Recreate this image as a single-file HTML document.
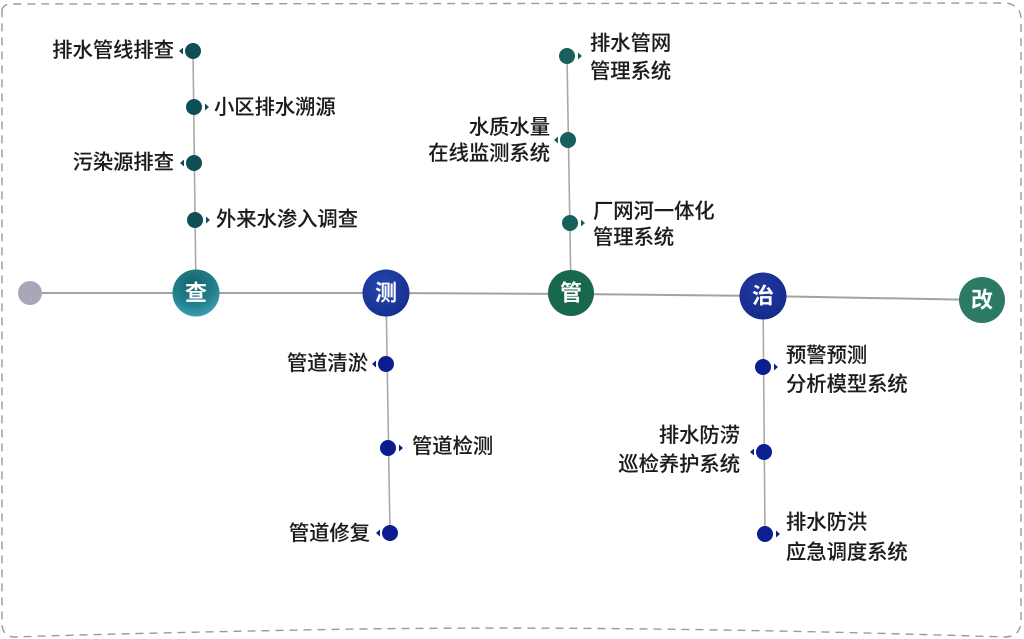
<!DOCTYPE html>
<html>
<head>
<meta charset="utf-8">
<style>
html,body{margin:0;padding:0;background:#fff;}
body{width:1024px;height:639px;overflow:hidden;}
svg{display:block;}
text{font-family:"Liberation Sans","Noto Sans CJK SC","WenQuanYi Zen Hei",sans-serif;}
.lb{font-size:20.3px;fill:#1c1c1c;font-weight:500;stroke:#1c1c1c;stroke-width:0.12;}
.big{font-size:22px;fill:#fff;font-weight:700;}
</style>
</head>
<body>
<svg width="1024" height="639" viewBox="0 0 1024 639" xmlns="http://www.w3.org/2000/svg">
<defs>
<radialGradient id="gCha" cx="45%" cy="30%" r="75%">
<stop offset="0" stop-color="#17636a"/>
<stop offset="0.6" stop-color="#23808c"/>
<stop offset="1" stop-color="#3fa3b6"/>
</radialGradient>
<radialGradient id="gCe" cx="40%" cy="35%" r="70%">
<stop offset="0" stop-color="#2545ad"/>
<stop offset="1" stop-color="#14308f"/>
</radialGradient>
<radialGradient id="gZhi" cx="40%" cy="35%" r="70%">
<stop offset="0" stop-color="#22389f"/>
<stop offset="1" stop-color="#142a8c"/>
</radialGradient>
</defs>
<rect width="1024" height="639" fill="#ffffff"/>
<!-- dashed border -->
<path d="M2,10 Q3,4 12,4 L1006,3 Q1020,5 1021,18 L1021,622 Q1020,636 1006,637 Q600,624 300,630 Q100,634 14,637 Q3,636 2,625 Z" fill="none" stroke="#9a9a9a" stroke-width="1.4" stroke-dasharray="8 6"/>

<!-- main horizontal line -->
<polyline points="30,293 196,293 386,293 571,294 763,296 982,300" fill="none" stroke="#a2a2a2" stroke-width="2"/>

<!-- vertical lines -->
<line x1="193" y1="51" x2="196" y2="293" stroke="#a8a8a8" stroke-width="1.6"/>
<line x1="386" y1="293" x2="390" y2="533" stroke="#a8a8a8" stroke-width="1.6"/>
<line x1="567" y1="56" x2="571" y2="293" stroke="#a8a8a8" stroke-width="1.6"/>
<line x1="763" y1="296" x2="765" y2="535" stroke="#a8a8a8" stroke-width="1.6"/>

<!-- grey start -->
<circle cx="30" cy="293" r="12" fill="#aaa6b8"/>

<!-- 查 branch -->
<g fill="#0e4f56">
<circle cx="193" cy="51" r="8"/>
<polygon points="179,51 183,47.5 183,54.5"/>
<circle cx="194" cy="107" r="8"/>
<polygon points="209,107 205,103.5 205,110.5"/>
<circle cx="194" cy="163" r="8"/>
<polygon points="180,163 184,159.5 184,166.5"/>
<circle cx="195" cy="220" r="8"/>
<polygon points="210,220 206,216.5 206,223.5"/>
</g>
<text class="lb" x="174" y="51" text-anchor="end" dominant-baseline="central">排水管线排查</text>
<text class="lb" x="214" y="108" dominant-baseline="central">小区排水溯源</text>
<text class="lb" x="174" y="163" text-anchor="end" dominant-baseline="central">污染源排查</text>
<text class="lb" x="216" y="220" dominant-baseline="central">外来水渗入调查</text>

<!-- 测 branch -->
<g fill="#0b1d8e">
<circle cx="386" cy="364" r="8"/>
<polygon points="372,364 376,360.5 376,367.5"/>
<circle cx="388" cy="448" r="8"/>
<polygon points="403,448 399,444.5 399,451.5"/>
<circle cx="390" cy="533" r="8"/>
<polygon points="376,533 380,529.5 380,536.5"/>
</g>
<text class="lb" x="368" y="364" text-anchor="end" dominant-baseline="central">管道清淤</text>
<text class="lb" x="412" y="447" dominant-baseline="central">管道检测</text>
<text class="lb" x="370" y="534" text-anchor="end" dominant-baseline="central">管道修复</text>

<!-- 管 branch -->
<g fill="#17605c">
<circle cx="567" cy="56" r="8"/>
<polygon points="582,56 578,52.5 578,59.5"/>
<circle cx="568" cy="140" r="8"/>
<polygon points="554,140 558,136.5 558,143.5"/>
<circle cx="570" cy="223" r="8"/>
<polygon points="585,223 581,219.5 581,226.5"/>
</g>
<text class="lb" x="590" y="44" dominant-baseline="central">排水管网</text>
<text class="lb" x="590" y="72" dominant-baseline="central">管理系统</text>
<text class="lb" x="550" y="128" text-anchor="end" dominant-baseline="central">水质水量</text>
<text class="lb" x="550" y="154" text-anchor="end" dominant-baseline="central">在线监测系统</text>
<text class="lb" x="593" y="212" dominant-baseline="central">厂网河一体化</text>
<text class="lb" x="593" y="238" dominant-baseline="central">管理系统</text>

<!-- 治 branch -->
<g fill="#0b1f90">
<circle cx="763" cy="367" r="8"/>
<polygon points="778,367 774,363.5 774,370.5"/>
<circle cx="764" cy="452" r="8"/>
<polygon points="750,452 754,448.5 754,455.5"/>
<circle cx="765" cy="534" r="8"/>
<polygon points="780,534 776,530.5 776,537.5"/>
</g>
<text class="lb" x="786" y="356" dominant-baseline="central">预警预测</text>
<text class="lb" x="786" y="385" dominant-baseline="central">分析模型系统</text>
<text class="lb" x="740" y="436" text-anchor="end" dominant-baseline="central">排水防涝</text>
<text class="lb" x="740" y="465" text-anchor="end" dominant-baseline="central">巡检养护系统</text>
<text class="lb" x="786" y="523" dominant-baseline="central">排水防洪</text>
<text class="lb" x="786" y="553" dominant-baseline="central">应急调度系统</text>

<!-- big circles -->
<circle cx="196" cy="293" r="23.5" fill="url(#gCha)"/>
<text class="big" x="196" y="293" text-anchor="middle" dominant-baseline="central">查</text>
<circle cx="386" cy="293" r="23.5" fill="url(#gCe)"/>
<text class="big" x="386" y="293" text-anchor="middle" dominant-baseline="central">测</text>
<circle cx="571" cy="293" r="23" fill="#18684f"/>
<text class="big" x="571" y="293" text-anchor="middle" dominant-baseline="central">管</text>
<circle cx="763" cy="296" r="23.5" fill="url(#gZhi)"/>
<text class="big" x="763" y="296" text-anchor="middle" dominant-baseline="central">治</text>
<circle cx="982" cy="300" r="23" fill="#2c7a66"/>
<text class="big" x="982" y="300" text-anchor="middle" dominant-baseline="central">改</text>
</svg>
</body>
</html>
